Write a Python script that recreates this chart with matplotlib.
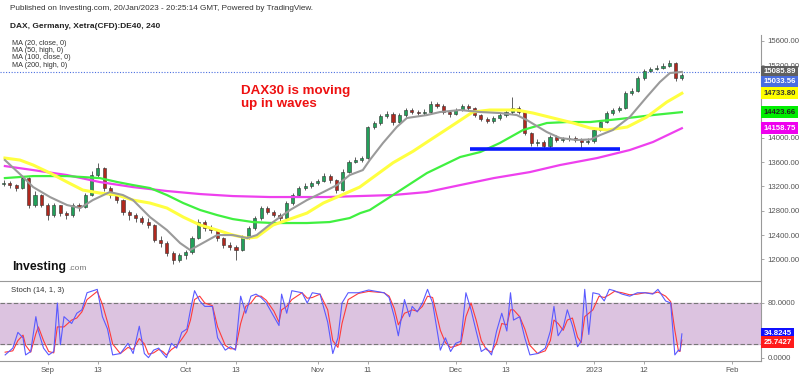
import matplotlib
matplotlib.use('Agg')
import matplotlib.pyplot as plt
from matplotlib.transforms import blended_transform_factory, offset_copy

plt.rcParams['font.family'] = ['Liberation Sans', 'DejaVu Sans']

# ---------------- data (x = trading-day index, 0 = 1 Sep 2022) ----------------
first_day = -7
first_open = 13240
close = [13260, 13220, 13175, 13340, 12894, 13060, 12900,
         12730, 12890, 12760, 12730, 12890, 12860, 13060, 13390, 13500, 13175,
         13060, 12975, 12780, 12730, 12680, 12610, 12565, 12320, 12270, 12100,
         11990, 12070, 12120, 12350, 12620, 12515, 12480, 12350, 12235, 12200,
         12150, 12370, 12515, 12680, 12845, 12780, 12730, 12680, 12930, 13060,
         13175, 13205, 13255, 13290, 13370, 13305, 13140, 13440, 13600, 13635,
         13670, 14180, 14245, 14360, 14395, 14260, 14376, 14460, 14425, 14410,
         14425, 14560, 14525, 14425, 14395, 14460, 14525, 14490, 14376, 14310,
         14277, 14327, 14376, 14425, 14490, 14425, 14080, 13915, 13930, 13865,
         14015, 13965, 13980, 13998, 13965, 13932, 13948, 14130, 14260, 14410,
         14460, 14490, 14740, 14770, 14985, 15100, 15135, 15150, 15185, 15230,
         14985, 15034]
high = [13300, 13290, 13240, 13380, 13360, 13120, 13080,
        12920, 12920, 12900, 12800, 12920, 12930, 13100, 13450, 13580, 13520,
        13200, 13090, 12990, 12820, 12760, 12720, 12680, 12590, 12380, 12300,
        12140, 12110, 12160, 12380, 12660, 12650, 12560, 12500, 12370, 12280,
        12240, 12400, 12550, 12710, 12880, 12880, 12820, 12760, 12960, 13090,
        13200, 13250, 13290, 13330, 13430, 13400, 13330, 13480, 13640, 13680,
        13700, 14200, 14280, 14400, 14440, 14420, 14410, 14500, 14490, 14460,
        14470, 14600, 14590, 14550, 14450, 14500, 14560, 14560, 14510, 14400,
        14340, 14360, 14410, 14460, 14670, 14520, 14440, 14100, 13980, 13960,
        14050, 14040, 14020, 14040, 14030, 13990, 13990, 14160, 14300, 14440,
        14500, 14530, 14780, 14820, 15020, 15140, 15170, 15200, 15230, 15280,
        15250, 15070]
low = [13200, 13180, 13120, 13160, 12840, 12870, 12860,
       12640, 12700, 12720, 12660, 12700, 12800, 12840, 13040, 13360, 13130,
       13010, 12930, 12730, 12650, 12620, 12580, 12520, 12280, 12200, 12050,
       11930, 11950, 12010, 12090, 12330, 12470, 12430, 12300, 12180, 12150,
       11990, 12130, 12340, 12490, 12650, 12740, 12690, 12600, 12660, 12900,
       13030, 13150, 13180, 13230, 13270, 13260, 13090, 13120, 13420, 13580,
       13610, 13650, 14150, 14220, 14330, 14210, 14240, 14350, 14390, 14370,
       14380, 14410, 14490, 14390, 14350, 14370, 14440, 14450, 14340, 14270,
       14240, 14250, 14300, 14350, 14400, 14390, 14040, 13870, 13870, 13820,
       13840, 13930, 13940, 13950, 13930, 13840, 13900, 13920, 14110, 14240,
       14380, 14430, 14470, 14700, 14750, 14960, 15080, 15110, 15130, 15170,
       14930, 14950]

ma20_t = [-6.8, -3.9, -2.3, 0.4, 3.1, 5.2, 7.2, 9.9, 12.0, 13.6, 16.3, 19.0, 21.1,
          22.7, 24.7, 27.0, 29.5, 31.8, 33.3, 35.9, 38.6, 41.3, 43.9, 46.1, 48.1,
          50.2, 51.3, 53.4, 55.6, 57.2, 60.4, 62.5, 65.7, 68.9, 72.0, 74.7, 76.3,
          79.5, 81.6, 84.3, 86.5, 88.0, 90.0, 92.7, 95.4, 97.5, 99.1, 101.0]
ma20_v = [13635, 13355, 13190, 13025, 12894, 12845, 12976, 13108, 13059, 12976,
          12696, 12482, 12268, 12153, 12268, 12400, 12400, 12350, 12400, 12614,
          12812, 12976, 13108, 13223, 13388, 13470, 13635, 13915, 14179, 14327,
          14376, 14426, 14459, 14426, 14409, 14376, 14294, 14096, 13998, 13965,
          13975, 14047, 14129, 14343, 14673, 14920, 15068, 15086]

ma50_t = [-6.8, -4.4, -2.3, 0.4, 3.1, 5.6, 8.3, 11.1, 13.6, 16.3, 19.0, 21.6, 24.3,
          27.0, 29.5, 31.8, 33.3, 35.9, 41.3, 43.9, 46.1, 49.7, 55.0, 58.2, 60.4,
          64.1, 67.7, 70.4, 72.0, 74.7, 77.3, 80.5, 83.7, 86.4, 89.1, 92.3, 95.4,
          98.6, 101.0]
ma50_v = [13668, 13635, 13553, 13421, 13273, 13141, 13092, 13059, 12976, 12927,
          12845, 12696, 12565, 12482, 12400, 12350, 12367, 12565, 12762, 12927,
          13026, 13190, 13590, 13780, 13930, 14180, 14426, 14459, 14459, 14459,
          14409, 14327, 14245, 14162, 14129, 14179, 14343, 14590, 14734]

ma100_t = [-6.8, -2.3, 3.1, 8.3, 11.1, 13.6, 16.3, 19.0, 21.6, 24.3, 27.0, 29.5,
           32.7, 35.9, 41.3, 44.9, 48.1, 49.8, 51.3, 55.0, 60.4, 65.7, 68.9, 72.0,
           75.7, 79.5, 82.7, 86.4, 91.1, 96.4, 101.0]
ma100_v = [13338, 13371, 13371, 13338, 13273, 13223, 13174, 13059, 12927, 12812,
           12729, 12663, 12614, 12598, 12598, 12614, 12680, 12762, 12812, 13059,
           13421, 13685, 13767, 13915, 14129, 14245, 14261, 14261, 14311, 14376,
           14424]

ma200_t = [-6.8, -2.3, 3.1, 8.3, 13.6, 19.0, 24.3, 29.5, 35.4, 44.5, 55.0, 60.4,
           65.7, 71.1, 76.8, 81.6, 87.5, 92.7, 96.4, 101.0]
ma200_v = [13536, 13470, 13388, 13273, 13190, 13125, 13075, 13042, 13026, 13026,
           13059, 13108, 13223, 13339, 13437, 13553, 13668, 13800, 13932, 14159]

stoch_t = [-6.76, -5.54, -4.73, -3.91, -3.50, -2.69, -1.87, -1.47, -0.65, 0.17,
           0.98, 1.55, 2.04, 2.61, 3.83, 4.65, 5.46, 6.28, 7.91, 8.73, 9.54,
           10.36, 11.58, 12.80, 13.62, 14.60, 15.41, 16.06, 16.88, 17.69, 18.35,
           18.92, 19.73, 20.55, 21.36, 22.18, 22.75, 23.40, 24.22, 25.03, 26.25,
           27.07, 28.29, 29.11, 29.92, 30.74, 31.55, 32.37, 33.19, 34.00, 34.82,
           36.04, 36.85, 37.26, 38.08, 38.89, 40.52, 41.34, 42.15, 43.38, 44.60,
           45.41, 46.23, 46.88, 47.86, 49.49, 51.12, 53.57, 54.38, 55.20, 55.85,
           56.83, 57.64, 58.05, 58.87, 59.68, 60.50, 61.31, 62.54, 63.35, 64.17,
           64.98, 65.80, 66.61, 67.43, 68.24, 69.06, 69.87, 70.69, 71.50, 72.32,
           73.13, 73.71, 74.19, 75.17, 75.99, 76.80, 78.03, 79.25, 80.06, 80.63,
           81.29, 82.10, 82.76, 83.57, 84.39, 84.96, 85.53, 86.18, 86.83, 87.81,
           88.63, 89.44, 90.26, 91.48, 92.70, 93.92, 95.15, 96.37, 97.19, 98.41,
           99.22, 99.88, 100.45, 100.7, 101.0]
stoch_k = [4, 14, 37, 29, 4, 9, 60, 39, 14, 4, 9, 80, 19, 60, 50, 65, 70, 95, 100,
           60, 42, 4, 6, 21, 6, 46, 6, 0, 11, 14, 6, 0, 21, 14, 37, 42, 70, 98, 83,
           75, 75, 29, 11, 16, 11, 90, 65, 90, 93, 88, 80, 60, 47, 93, 65, 98, 95,
           80, 95, 93, 52, 6, 29, 80, 95, 95, 99, 95, 88, 60, 32, 85, 60, 75, 67,
           80, 100, 80, 11, 29, 9, 21, 24, 95, 70, 39, 9, 14, 4, 39, 65, 39, 95,
           55, 60, 29, 4, 6, 14, 39, 75, 32, 44, 70, 47, 16, 24, 100, 34, 95, 93,
           83, 100, 98, 93, 90, 95, 95, 93, 100, 83, 80, 4, 11, 10, 34.82]
stoch_d = [8, 10, 25, 33, 18, 8, 35, 45, 25, 9, 7, 45, 45, 45, 55, 58, 67, 85, 97,
           78, 52, 20, 6, 15, 12, 28, 20, 5, 7, 12, 9, 4, 12, 17, 27, 38, 55, 85,
           90, 80, 76, 45, 18, 13, 13, 50, 75, 80, 90, 90, 84, 68, 52, 70, 75, 85,
           95, 87, 88, 93, 70, 25, 15, 50, 85, 94, 97, 95, 90, 72, 48, 65, 68, 70,
           68, 75, 90, 88, 40, 22, 15, 17, 20, 60, 80, 55, 25, 12, 8, 22, 50, 48,
           70, 70, 60, 42, 18, 6, 10, 25, 55, 50, 40, 55, 58, 30, 22, 60, 65, 70,
           90, 88, 92, 97, 95, 92, 93, 95, 94, 96, 90, 82, 40, 10, 9, 25.74]

tick_pos = [0, 8, 22, 30, 43, 51, 65, 73, 87, 95, 109]
tick_labels = ['Sep', '13', 'Oct', '13', 'Nov', '11', 'Dec', '13', '2023', '12', 'Feb']
price_ticks = [12000, 12400, 12800, 13200, 13600, 14000, 14400, 14800, 15200, 15600]
price_tick_hidden = [14400, 14800]      # labels covered by value boxes
stoch_ticks = [0, 40, 80]
stoch_tick_hidden = [40]
support_level = 13822
support_span = [67.3, 91.1]
price_line = 15085.89
last_close_label = 15033.56
ma_last = [15085.89, 14733.80, 14423.66, 14158.75]
stoch_last = [34.8245, 25.7427]

# ---------------- figure ----------------
fig = plt.figure(figsize=(8, 3.76), dpi=100)
fig.patch.set_facecolor('white')
ax = fig.add_axes([0, 1 - 280 / 376, 761 / 800, 245 / 376])
ax2 = fig.add_axes([0, 1 - 361 / 376, 761 / 800, 80 / 376])

xlim = (-7.58, 113.6)
grey_txt = '#555555'

# candles
n = len(close)
xs = list(range(first_day, first_day + n))
opens = [first_open] + close[:-1]
ax.vlines(xs, low, high, color='#444444', linewidth=0.6, zorder=2)
bcol = ['#22a05a' if c >= o else '#b0281e' for o, c in zip(opens, close)]
bottoms = [min(o, c) for o, c in zip(opens, close)]
heights = [max(abs(c - o), 8) for o, c in zip(opens, close)]
ax.bar(xs, heights, bottom=bottoms, width=0.5, color=bcol,
       edgecolor='#333333', linewidth=0.4, zorder=3)

# moving averages
ax.plot(ma200_t, ma200_v, color='#ee40ee', lw=1.6, zorder=4)
ax.plot(ma100_t, ma100_v, color='#40f040', lw=1.6, zorder=4)
ax.plot(ma50_t, ma50_v, color='#ffff40', lw=2.2, zorder=4)
ax.plot(ma20_t, ma20_v, color='#9a9a9a', lw=1.5, zorder=4)

# support line
ax.hlines(support_level, support_span[0], support_span[1], color='#0a1aff', lw=2.6, zorder=5)
# price line
ax.axhline(price_line, color='#4a6ee0', lw=0.8, ls=(0, (1, 1.5)), zorder=1)

ax.set_xlim(*xlim)
ax.set_ylim(11660, 15694)
for s in ['top', 'left', 'bottom']:
    ax.spines[s].set_visible(False)
ax.spines['right'].set_color('#999999')
ax.spines['right'].set_linewidth(0.8)
ax.set_xticks([])
ax.yaxis.tick_right()
ax.set_yticks(price_ticks)
ax.set_yticklabels(['' if v in price_tick_hidden else f'{v:.2f}' for v in price_ticks])
ax.tick_params(axis='y', labelsize=5.6, colors='#999999', labelcolor=grey_txt,
               length=2.5, width=0.6, pad=2)

# value boxes on main axis
trans = blended_transform_factory(ax.transAxes, ax.transData)
boxes = [
    (ma_last[0], 0, '#606060', 'white'),
    (last_close_label, -4.8, '#4a6ee0', 'white'),
    (ma_last[1], 0, '#ffff00', '#333333'),
    (ma_last[2], 0, '#00ee00', '#222222'),
    (ma_last[3], 0, '#ee00ee', 'white'),
]
for val, dy, fc, tc in boxes:
    tr = offset_copy(trans, fig=fig, x=2.0, y=dy, units='points')
    ax.text(1.0, val, f'{val:.2f}', transform=tr, ha='left', va='center',
            fontsize=5.6, fontweight='bold', color=tc, clip_on=False, zorder=10,
            bbox=dict(boxstyle='square,pad=0.3', fc=fc, ec='none'))

# annotation text
ax.text(0.317, 0.745, 'DAX30 is moving\nup in waves', transform=ax.transAxes,
        color='#ee1111', fontsize=9.6, fontweight='bold', ha='left', va='center',
        linespacing=1.1, zorder=11)

# ---------------- stochastic panel ----------------
ax2.axhspan(20, 80, color='#dcc3e0', zorder=0)
ax2.axhline(80, color='#777777', lw=0.8, ls=(0, (4, 2)), zorder=1)
ax2.axhline(20, color='#777777', lw=0.8, ls=(0, (4, 2)), zorder=1)
ax2.plot(stoch_t, stoch_d, color='#ff3b3b', lw=0.8, zorder=3)
ax2.plot(stoch_t, stoch_k, color='#5a5aff', lw=0.8, zorder=4)
ax2.set_xlim(*xlim)
ax2.set_ylim(-4.9, 112.2)
ax2.spines['top'].set_color('#999999')
ax2.spines['top'].set_linewidth(0.8)
ax2.spines['left'].set_visible(False)
ax2.spines['right'].set_color('#999999')
ax2.spines['right'].set_linewidth(0.8)
ax2.spines['bottom'].set_color('#999999')
ax2.spines['bottom'].set_linewidth(0.8)
ax2.yaxis.tick_right()
ax2.set_yticks(stoch_ticks)
ax2.set_yticklabels(['' if v in stoch_tick_hidden else f'{v:.4f}' for v in stoch_ticks])
ax2.tick_params(axis='y', labelsize=5.6, colors='#999999', labelcolor=grey_txt,
                length=2.5, width=0.6, pad=2)
ax2.set_xticks(tick_pos)
ax2.set_xticklabels(tick_labels)
ax2.tick_params(axis='x', labelsize=5.6, colors='#999999', labelcolor=grey_txt,
                length=2.5, width=0.6, pad=2)

trans2 = blended_transform_factory(ax2.transAxes, ax2.transData)
for val, dy, fc in [(stoch_last[0], 0, '#1010ff'), (stoch_last[1], -1.6, '#ff1a1a')]:
    tr = offset_copy(trans2, fig=fig, x=2.0, y=dy, units='points')
    ax2.text(1.0, val, f'{val:.4f}', transform=tr, ha='left', va='center',
             fontsize=5.6, fontweight='bold', color='white', clip_on=False, zorder=10,
             bbox=dict(boxstyle='square,pad=0.3', fc=fc, ec='none'))

ax2.text(0.014, 0.92, 'Stoch (14, 1, 3)', transform=ax2.transAxes, fontsize=5.6,
         color='#333333', ha='left', va='top')

# ---------------- header texts ----------------
fig.text(10 / 800, 1 - 8 / 376, 'Published on Investing.com, 20/Jan/2023 - 20:25:14 GMT, Powered by TradingView.',
         fontsize=5.9, color='#333333', ha='left', va='center')
fig.text(10 / 800, 1 - 26 / 376, 'DAX, Germany, Xetra(CFD):DE40, 240',
         fontsize=6.0, fontweight='bold', color='#222222', ha='left', va='center')
for i, s in enumerate(['MA (20, close, 0)', 'MA (50, high, 0)', 'MA (100, close, 0)', 'MA (200, high, 0)']):
    fig.text(12 / 800, 1 - (43.5 + 7.2 * i) / 376, s, fontsize=5.2, color='#333333',
             ha='left', va='center')

# logo
fig.text(12 / 800, 1 - 267 / 376, 'Investing', fontsize=8.8, fontweight='bold',
         color='#111111', ha='left', va='center')
fig.text(68 / 800, 1 - 268.5 / 376, '.com', fontsize=6, color='#777777',
         ha='left', va='center')

fig.savefig('out.png', dpi=100, facecolor='white')
